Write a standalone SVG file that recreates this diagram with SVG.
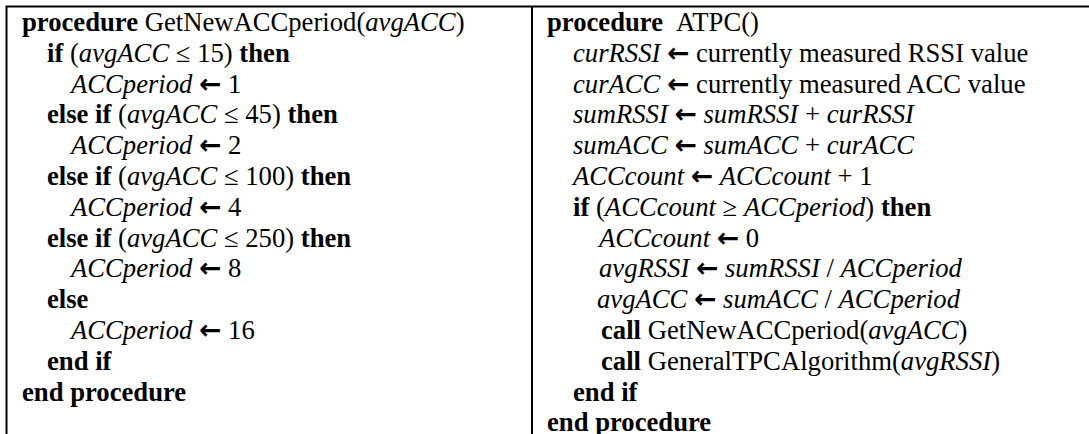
<svg xmlns="http://www.w3.org/2000/svg" width="1089" height="434" viewBox="0 0 1089 434">
<style>
text{font-family:"Liberation Serif","Times New Roman",serif;font-size:26.67px;fill:#000}
.b{font-weight:bold}
.i{font-style:italic}
.a{font-family:"DejaVu Sans",sans-serif;font-weight:bold;font-style:normal}
.line{stroke:#000;stroke-width:2;fill:none}
</style>
<rect width="1089" height="434" fill="#fff"/>
<g id="table">
<path class="line" d="M5.5 6.5H1089M6.5 5.5V434M532 5.5V434"/>
</g>
<g id="left">
<text x="22" y="31"><tspan class="b">procedure</tspan> GetNewACCperiod(<tspan class="i">avgACC</tspan>)</text>
<text x="47" y="61.8"><tspan class="b">if</tspan> (<tspan class="i">avgACC</tspan> ≤ 15) <tspan class="b">then</tspan></text>
<text x="71" y="92.6"><tspan class="i">ACCperiod</tspan> <tspan class="a">←</tspan> 1</text>
<text x="47" y="123.4"><tspan class="b">else if</tspan> (<tspan class="i">avgACC</tspan> ≤ 45) <tspan class="b">then</tspan></text>
<text x="71" y="154.2"><tspan class="i">ACCperiod</tspan> <tspan class="a">←</tspan> 2</text>
<text x="47" y="185"><tspan class="b">else if</tspan> (<tspan class="i">avgACC</tspan> ≤ 100) <tspan class="b">then</tspan></text>
<text x="71" y="215.8"><tspan class="i">ACCperiod</tspan> <tspan class="a">←</tspan> 4</text>
<text x="47" y="246.6"><tspan class="b">else if</tspan> (<tspan class="i">avgACC</tspan> ≤ 250) <tspan class="b">then</tspan></text>
<text x="71" y="277.4"><tspan class="i">ACCperiod</tspan> <tspan class="a">←</tspan> 8</text>
<text x="47" y="308.2" class="b">else</text>
<text x="71" y="339"><tspan class="i">ACCperiod</tspan> <tspan class="a">←</tspan> 16</text>
<text x="47" y="369.8" class="b">end if</text>
<text x="22" y="400.6" class="b">end procedure</text>
</g>
<g id="right">
<text x="547" y="31"><tspan class="b">procedure</tspan><tspan dx="13">ATPC()</tspan></text>
<text x="573" y="61.8"><tspan class="i">curRSSI</tspan> <tspan class="a">←</tspan> currently measured RSSI value</text>
<text x="573" y="92.6"><tspan class="i">curACC</tspan> <tspan class="a">←</tspan> currently measured ACC value</text>
<text x="573" y="123.4"><tspan class="i">sumRSSI</tspan> <tspan class="a">←</tspan> <tspan class="i">sumRSSI</tspan> + <tspan class="i">curRSSI</tspan></text>
<text x="573" y="154.2"><tspan class="i">sumACC</tspan> <tspan class="a">←</tspan> <tspan class="i">sumACC</tspan> + <tspan class="i">curACC</tspan></text>
<text x="573" y="185"><tspan class="i">ACCcount</tspan> <tspan class="a">←</tspan> <tspan class="i">ACCcount</tspan> + 1</text>
<text x="573" y="215.8"><tspan class="b">if</tspan> (<tspan class="i">ACCcount</tspan> ≥ <tspan class="i">ACCperiod</tspan>) <tspan class="b">then</tspan></text>
<text x="599" y="246.6"><tspan class="i">ACCcount</tspan> <tspan class="a">←</tspan> 0</text>
<text x="599" y="277.4"><tspan class="i">avgRSSI</tspan> <tspan class="a">←</tspan> <tspan class="i">sumRSSI</tspan> / <tspan class="i">ACCperiod</tspan></text>
<text x="597" y="308.2"><tspan class="i">avgACC</tspan> <tspan class="a">←</tspan> <tspan class="i">sumACC</tspan> / <tspan class="i">ACCperiod</tspan></text>
<text x="601" y="339"><tspan class="b">call</tspan> GetNewACCperiod(<tspan class="i">avgACC</tspan>)</text>
<text x="601" y="369.8"><tspan class="b">call</tspan> GeneralTPCAlgorithm(<tspan class="i">avgRSSI</tspan>)</text>
<text x="573" y="400.6" class="b">end if</text>
<text x="547" y="431.4" class="b">end procedure</text>
</g>
</svg>
